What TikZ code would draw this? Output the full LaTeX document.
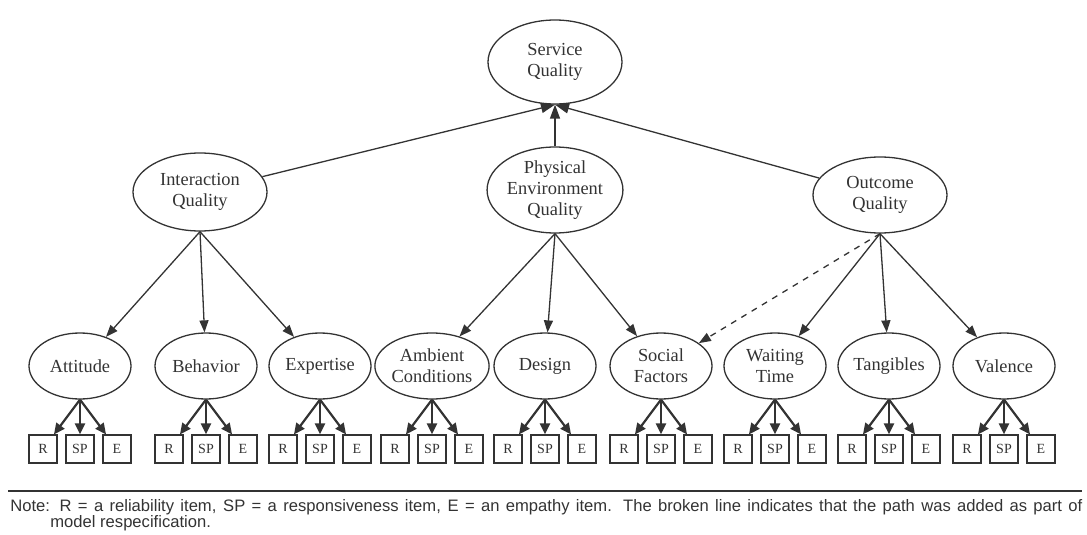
\documentclass[tikz,border=0pt]{standalone}
\usepackage{fontspec}
\setmainfont{Liberation Serif}
\setsansfont{Liberation Sans}
\usepackage{xcolor}
\usetikzlibrary{shapes.geometric,arrows.meta}
\definecolor{ink}{HTML}{333333}

\begin{document}
\begin{tikzpicture}[x=0.5pt, y=-0.5pt,
    every node/.style = {text=ink, font=\fontsize{9.2}{10.5}\selectfont},
    factor/.style = {ellipse, draw=ink, line width=0.65pt, align=center,
      inner sep=0pt, minimum width=67pt, minimum height=40pt},
    dimension/.style = {ellipse, draw=ink, line width=0.65pt, align=center,
      inner sep=0pt, minimum width=51pt, minimum height=33pt},
    item/.style = {rectangle, draw=ink, line width=0.6pt, inner sep=0pt,
      minimum size=14pt, font=\fontsize{7}{8}\selectfont},
    link/.style = {draw=ink, line width=0.65pt, -{Triangle[length=6pt,width=4.5pt]}},
    indicator/.style = {draw=ink, line width=1.1pt, -{Triangle[length=5.5pt,width=5pt]}}]
  \useasboundingbox (0,0) rectangle (1087,535);
  \node[factor, minimum height=42pt] (sq) at (555,62) {Service\\Quality};
  \node[factor, minimum height=39pt] (iq) at (200,192) {Interaction\\Quality};
  \node[factor, minimum height=43pt] (pq) at (555,190) {Physical\\Environment\\Quality};
  \node[factor, minimum height=38pt] (oq) at (880,195) {Outcome\\Quality};
  \foreach \name/\x/\txt in {att/80/Attitude, beh/206/Behavior, exp/320/Expertise,
      amb/432/{Ambient\\Conditions}, des/545/Design, soc/661/{Social\\Factors},
      wai/775/{Waiting\\Time}, tan/889/Tangibles, val/1004/Valence} {
    \node[dimension] (\name) at (\x,366) {\txt};
    \node[item] (\name-r) at ({\x-37},449) {R};
    \node[item] (\name-sp) at (\x,449) {SP};
    \node[item] (\name-e) at ({\x+37},449) {E};
    \draw[indicator] (\name.south) -- (\name-r);
    \draw[indicator] (\name.south) -- (\name-sp);
    \draw[indicator] (\name.south) -- (\name-e);
  }
  \draw[link, -{Triangle[length=7pt,width=5pt]}] (iq) -- (sq.south);
  \draw[link, -{Triangle[length=7pt,width=5pt]}] (pq) -- (sq.south);
  \draw[link, -{Triangle[length=7pt,width=5pt]}] (oq) -- (sq.south);
  \draw[link] (iq.south) -- (att);
  \draw[link] (iq.south) -- (beh);
  \draw[link] (iq.south) -- (exp);
  \draw[link] (pq.south) -- (amb);
  \draw[link] (pq.south) -- (des);
  \draw[link] (pq.south) -- (soc);
  \draw[link, dashed] (oq.south) -- (soc);
  \draw[link] (oq.south) -- (wai);
  \draw[link] (oq.south) -- (tan);
  \draw[link] (oq.south) -- (val);
  \draw[ink, line width=0.9pt] (8,491) -- (1082,491);
  \node[anchor=north west, inner sep=0pt, text width=536pt, align=justify,
    font=\sffamily\fontsize{8.3}{8.2}\selectfont] (note) at (10,499)
    {Note: R = a reliability item, SP = a responsiveness item, E = an empathy item. The broken line indicates that the path was added as part of\linebreak\hspace*{20pt}model respecification.};
\end{tikzpicture}
\end{document}
